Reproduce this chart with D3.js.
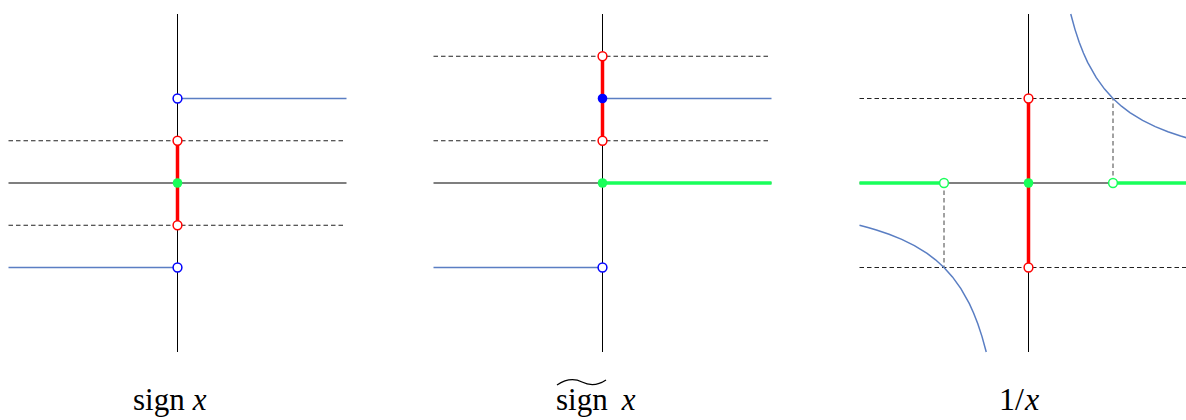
<!DOCTYPE html>
<html>
<head>
<meta charset="utf-8">
<script src="https://cdn.jsdelivr.net/npm/d3@7"></script>
<style>
  html, body { margin: 0; padding: 0; background: #fff; }
  svg { display: block; }
  text { font-family: "Liberation Serif", "DejaVu Serif", serif; }
</style>
</head>
<body>
<svg id="chart" width="1186" height="420"></svg>
<script>
// Panel layout: centre of each coordinate frame (x axis, y axis crossing)
const panelCenters = [177.5, 602.5, 1028.5];
const panelDomain = [-2, 2];
const eps = [0.5];              // half-width of the neighbourhood bands

// sign x : two horizontal branches with open end points
const signLower = [[-2, -1], [0, -1]];
const signUpper = [[0, 1], [2, 1]];
// modified sign : value 1 at zero, the zero branch on the right
const tSignLower = [[-2, -1], [0, -1]];
const tSignUpper = [[0, 1], [2, 1]];
const tSignZero = [[0, 0], [2, 0]];
// 1/x samples for both branches
const invXs = [0.5, 0.55, 0.6, 0.65, 0.7, 0.8, 0.9, 1, 1.1, 1.2, 1.35, 1.5, 1.65, 1.8, 1.9, 2];

const cy = 183, half = 169;
const BLUE = "#5a7ec3", RED = "#ff0000", GREEN = "#19ff5a", DOT_BLUE = "#0000ff";

const svg = d3.select("#chart");

function makeScales(cx) {
  const x = d3.scaleLinear().domain(panelDomain).range([cx - half, cx + half]);
  const y = d3.scaleLinear().domain(panelDomain).range([cy + half, cy - half]);
  return { x, y };
}

function line(g, pts, s, color, w, dash) {
  const gen = d3.line().x(d => s.x(d[0])).y(d => s.y(d[1]));
  g.append("path").attr("d", gen(pts)).attr("fill", "none")
    .attr("stroke", color).attr("stroke-width", w)
    .attr("stroke-dasharray", dash || null);
}

function dot(g, p, s, color, open) {
  g.append("circle").attr("cx", s.x(p[0])).attr("cy", s.y(p[1])).attr("r", open ? 4.4 : 4.8)
    .attr("fill", open ? "#fff" : color)
    .attr("stroke", color).attr("stroke-width", open ? 1.5 : 0);
}

function axes(g, s) {
  line(g, [[-2, 0], [2, 0]], s, "#555", 1.3);
  line(g, [[0, -2], [0, 2]], s, "#000", 1);
}

const DASH = "4.5,3";

// ---- panel 1: sign x
{
  const s = makeScales(panelCenters[0]);
  const g = svg.append("g");
  axes(g, s);
  line(g, [[-2, eps[0]], [1.97, eps[0]]], s, "#222", 1, DASH);
  line(g, [[-2, -eps[0]], [1.97, -eps[0]]], s, "#222", 1, DASH);
  line(g, signLower, s, BLUE, 1.5);
  line(g, signUpper, s, BLUE, 1.5);
  line(g, [[0, -eps[0]], [0, eps[0]]], s, RED, 3.5);
  dot(g, signUpper[0], s, DOT_BLUE, true);
  dot(g, signLower[1], s, DOT_BLUE, true);
  dot(g, [0, eps[0]], s, RED, true);
  dot(g, [0, -eps[0]], s, RED, true);
  dot(g, [0, 0], s, GREEN, false);
}

// ---- panel 2: modified sign
{
  const s = makeScales(panelCenters[1]);
  const g = svg.append("g");
  axes(g, s);
  line(g, [[-2, 1 + eps[0]], [1.97, 1 + eps[0]]], s, "#222", 1, DASH);
  line(g, [[-2, 1 - eps[0]], [1.97, 1 - eps[0]]], s, "#222", 1, DASH);
  line(g, tSignLower, s, BLUE, 1.5);
  line(g, tSignUpper, s, BLUE, 1.5);
  line(g, tSignZero, s, GREEN, 3.5);
  line(g, [[0, 1 - eps[0]], [0, 1 + eps[0]]], s, RED, 3.5);
  dot(g, tSignLower[1], s, DOT_BLUE, true);
  dot(g, [0, 1 + eps[0]], s, RED, true);
  dot(g, [0, 1 - eps[0]], s, RED, true);
  dot(g, tSignUpper[0], s, DOT_BLUE, false);
  dot(g, [0, 0], s, GREEN, false);
}

// ---- panel 3: 1/x
{
  const s = makeScales(panelCenters[2]);
  const g = svg.append("g");
  axes(g, s);
  line(g, [[-2, 1], [2, 1]], s, "#222", 1, DASH);
  line(g, [[-2, -1], [2, -1]], s, "#222", 1, DASH);
  line(g, [[1, 0], [1, 1]], s, "#444", 1, DASH);
  line(g, [[-1, 0], [-1, -1]], s, "#444", 1, DASH);
  line(g, invXs.map(v => [v, 1 / v]), s, BLUE, 1.5);
  line(g, invXs.map(v => [-v, -1 / v]), s, BLUE, 1.5);
  line(g, [[-2, 0], [-1, 0]], s, GREEN, 3.5);
  line(g, [[1, 0], [2, 0]], s, GREEN, 3.5);
  line(g, [[0, -1], [0, 1]], s, RED, 3.5);
  dot(g, [-1, 0], s, GREEN, true);
  dot(g, [1, 0], s, GREEN, true);
  dot(g, [0, 1], s, RED, true);
  dot(g, [0, -1], s, RED, true);
  dot(g, [0, 0], s, GREEN, false);
}

// ---- titles
const fs = 31, ty = 410;
svg.append("text").attr("x", 133).attr("y", ty).attr("font-size", fs)
  .html('sign<tspan dx="8" font-style="italic">x</tspan>');
svg.append("text").attr("x", 556).attr("y", ty).attr("font-size", fs)
  .html('sign<tspan dx="14" font-style="italic">x</tspan>');
// wide tilde over "sign"
svg.append("path")
  .attr("d", "M557,385 C566,379 574,378 582,382 C590,386 597,386 606,380")
  .attr("fill", "none").attr("stroke", "#000").attr("stroke-width", 1.3);
svg.append("text").attr("x", 999).attr("y", ty).attr("font-size", 32)
  .html('1/<tspan font-style="italic" dx="1">x</tspan>');
</script>
</body>
</html>
